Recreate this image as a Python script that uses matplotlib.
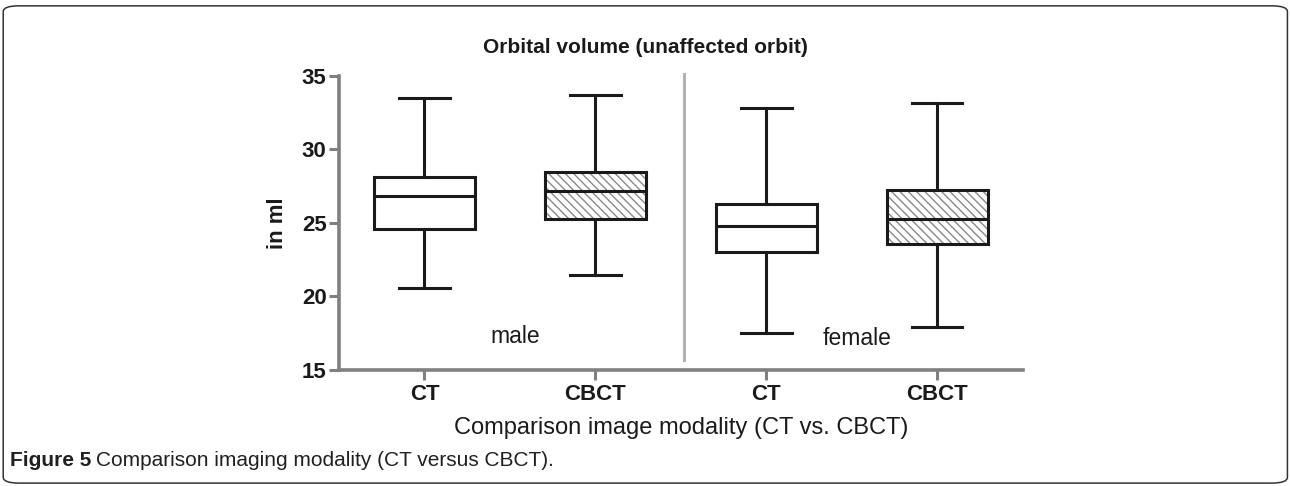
import matplotlib
matplotlib.use("Agg")
import matplotlib.pyplot as plt
from matplotlib.patches import FancyBboxPatch, PathPatch

plt.rcParams['font.family'] = ['Liberation Sans', 'DejaVu Sans']

# box plot values (ml)
groups = ["CT", "CBCT", "CT", "CBCT"]
whislo = [20.6, 21.45, 17.5, 17.95]
q1 = [24.6, 25.25, 23.05, 23.55]
med = [26.8, 27.15, 24.8, 25.25]
q3 = [28.1, 28.45, 26.3, 27.2]
whishi = [33.5, 33.7, 32.8, 33.15]
hatched = [False, True, False, True]
sex_labels = ["male", "female"]
sex_pos = [(1.53, 17.3), (3.53, 17.15)]

stats = []
for i in range(len(groups)):
    stats.append(dict(label=groups[i], whislo=whislo[i], q1=q1[i], med=med[i],
                      q3=q3[i], whishi=whishi[i], fliers=[]))

fig = plt.figure(figsize=(12.9, 4.86), dpi=100)
ax = fig.add_axes([0.2628, 0.2387, 0.530, 0.6055])

pos = list(range(1, len(groups) + 1))
line = dict(color='#1a1a1a', linewidth=2.2)
bp = ax.bxp(stats, positions=pos, widths=0.59, patch_artist=True, showfliers=False,
            boxprops=dict(facecolor='white', edgecolor='#1a1a1a', linewidth=2.2),
            whiskerprops=line, capprops=line, medianprops=line)
for box, h in zip(bp['boxes'], hatched):
    box.set_zorder(2)
    if h:
        hp = PathPatch(box.get_path(), facecolor='none', edgecolor='#8a8a8a',
                       hatch='\\\\\\\\', linewidth=0, zorder=2.5)
        ax.add_patch(hp)
        box.set_facecolor('none')
        box.set_zorder(3)
for m in bp['medians']:
    m.set_zorder(4)

ax.set_xlim(0.5, 4.5)
ax.set_ylim(15, 35)
ax.set_yticks([15, 20, 25, 30, 35])
ax.set_xticks(pos)
ax.set_xticklabels(groups)

# separator between male / female
ax.plot([2.52, 2.52], [15.7, 35.1], color='#b3b3b3', linewidth=2.2, clip_on=False)
for t, (x, y) in zip(sex_labels, sex_pos):
    ax.text(x, y, t, fontsize=16.5, ha='center', va='center', color='#1a1a1a')

for s in ['top', 'right']:
    ax.spines[s].set_visible(False)
for s in ['left', 'bottom']:
    ax.spines[s].set_color('#808080')
    ax.spines[s].set_linewidth(2.6)
ax.tick_params(axis='both', colors='#808080', width=2.2, length=7)
for lab in ax.get_xticklabels() + ax.get_yticklabels():
    lab.set_color('#1a1a1a')
    lab.set_fontweight('bold')
    lab.set_fontsize(16)
ax.tick_params(axis='x', pad=3)
ax.tick_params(axis='y', pad=2)

ax.set_ylabel("in ml", fontsize=16, fontweight='bold', color='#1a1a1a', labelpad=10)
ax.set_xlabel("Comparison image modality (CT vs. CBCT)", fontsize=17,
              color='#1a1a1a', labelpad=9)
fig.text(0.5, 0.903, "Orbital volume (unaffected orbit)", fontsize=15,
         fontweight='bold', ha='center', va='center', color='#1a1a1a')

# caption: bold part then normal part right after it
cap1 = fig.text(0.0078, 0.052, "Figure 5", fontsize=15, fontweight='bold',
                color='#231f20', ha='left', va='center')
fig.canvas.draw()
bb = cap1.get_window_extent()
x2 = (bb.x1 + 5) / fig.bbox.width
fig.text(x2, 0.052, "Comparison imaging modality (CT versus CBCT).", fontsize=15,
         color='#231f20', ha='left', va='center')

border = FancyBboxPatch((0.0025, 0.006), 0.9955, 0.982, transform=fig.transFigure,
                        boxstyle="round,pad=0,rounding_size=0.012",
                        facecolor='none', edgecolor='#333333', linewidth=1.1)
fig.patches.append(border)

fig.savefig("out.png", dpi=100)
